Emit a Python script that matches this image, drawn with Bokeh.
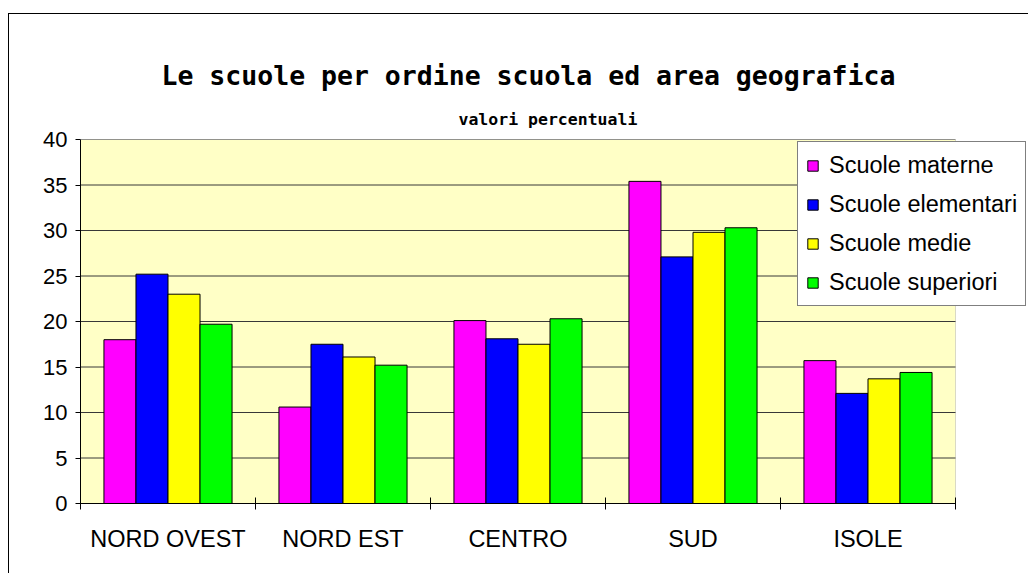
from bokeh.plotting import figure
from bokeh.models import (Range1d, LinearAxis, FixedTicker, Title,
                          Legend, LegendItem, BoxAnnotation)
from bokeh.transform import dodge
from bokeh.embed import file_html
from bokeh.resources import INLINE

# ---- data ----
areas = ["NORD OVEST", "NORD EST", "CENTRO", "SUD", "ISOLE"]
materne = [18.0, 10.6, 20.1, 35.4, 15.7]
elementari = [25.2, 17.5, 18.1, 27.1, 12.1]
medie = [23.0, 16.1, 17.5, 29.8, 13.7]
superiori = [19.7, 15.2, 20.3, 30.3, 14.4]
series_names = ["Scuole materne", "Scuole elementari", "Scuole medie", "Scuole superiori"]
series_colors = ["#FF00FF", "#0000FF", "#FFFF00", "#00FF00"]
y_ticks = [0, 5, 10, 15, 20, 25, 30, 35, 40]
title_text = "Le scuole per ordine scuola ed area geografica"
subtitle_text = "valori percentuali"

n = len(areas)
centers = [i + 0.5 for i in range(n)]       # category slot centres
boundaries = list(range(n + 1))             # category slot edges
data = dict(xc=centers, materne=materne, elementari=elementari, medie=medie, superiori=superiori)
cols = ["materne", "elementari", "medie", "superiori"]

# layout: figure placed at (9,14) on the page by its CSS margin+border
W, H = 1020, 560
left_b, top_b, bottom_b = 71, 125, 71
area_px = 875                      # width of the yellow plotting area
frame_w = W - left_b
x_end = n * frame_w / area_px      # frame extends right so the legend can overhang

p = figure(width=W, height=H, x_range=Range1d(0, x_end), y_range=Range1d(0, 40),
           output_backend="svg", toolbar_location=None, x_axis_location=None,
           min_border_left=left_b, min_border_right=0, min_border_top=top_b,
           min_border_bottom=bottom_b,
           background_fill_color="white", border_fill_color="white")
p.outline_line_color = None
p.styles = {"margin-left": "8px", "margin-top": "13px",
            "border-left": "1px solid black", "border-top": "1px solid black"}

# yellow plot area with grey border
p.add_layout(BoxAnnotation(left=0, right=n, bottom=0, top=40, level="image",
                           fill_color="#FFFFC6", fill_alpha=1,
                           line_color="#808080", line_width=1))

# y axis
p.yaxis.ticker = FixedTicker(ticks=y_ticks)
p.yaxis.axis_line_color = "black"
p.yaxis.major_tick_out = 5
p.yaxis.major_tick_in = 0
p.yaxis.minor_tick_out = 0
p.yaxis.minor_tick_in = 0
p.yaxis.major_label_standoff = 8
p.yaxis.major_label_text_font = "Liberation Sans"
p.yaxis.major_label_text_font_size = "22px"
p.yaxis.major_label_text_color = "black"
p.ygrid.grid_line_color = None
p.xgrid.grid_line_color = None

# horizontal gridlines limited to the plotting area
p.segment(x0=[0] * len(y_ticks), x1=[n] * len(y_ticks), y0=y_ticks, y1=y_ticks,
          line_color="#383838", line_width=1)

# x axis: labels at slot centres (major, no tick marks), crossing ticks at slot edges (minor)
x_axis = LinearAxis(ticker=FixedTicker(ticks=centers, minor_ticks=boundaries), bounds=(0, n),
                    major_label_overrides={c: a for c, a in zip(centers, areas)},
                    major_tick_line_color=None, major_tick_in=0, major_tick_out=0,
                    minor_tick_in=6, minor_tick_out=6, minor_tick_line_color="black",
                    axis_line_color="black", major_label_standoff=16,
                    major_label_text_font="Liberation Sans",
                    major_label_text_font_size="23.5px",
                    major_label_text_color="black")
p.add_layout(x_axis, "below")

# bars
w = 0.183
offsets = [-1.5 * w, -0.5 * w, 0.5 * w, 1.5 * w]
renderers = []
for col, off, color in zip(cols, offsets, series_colors):
    r = p.vbar(x=dodge("xc", off), top=col, width=w, source=data,
               fill_color=color, line_color="black", line_width=1)
    renderers.append(r)

legend = Legend(items=[LegendItem(label=nm, renderers=[r]) for nm, r in zip(series_names, renderers)],
                location=(717, 197), orientation="vertical",
                label_text_font="Liberation Sans", label_text_font_size="23.5px",
                label_text_color="black", glyph_width=13, glyph_height=13,
                label_height=30, label_standoff=10, spacing=9, padding=8, margin=0,
                border_line_color="black", border_line_width=1,
                background_fill_color="white", background_fill_alpha=1)
p.add_layout(legend, "center")

# titles (subtitle first: it sits closest to the plot)
p.add_layout(Title(text=subtitle_text, align="left", offset=378, standoff=21,
                   text_font="DejaVu Sans Mono", text_font_style="bold",
                   text_font_size="16.5px", text_color="black"), "above")
p.add_layout(Title(text=title_text, align="left", offset=81, standoff=13,
                   text_font="DejaVu Sans Mono", text_font_style="bold",
                   text_font_size="26.5px", text_color="black"), "above")

open("out.html", "w").write(file_html(p, INLINE))
